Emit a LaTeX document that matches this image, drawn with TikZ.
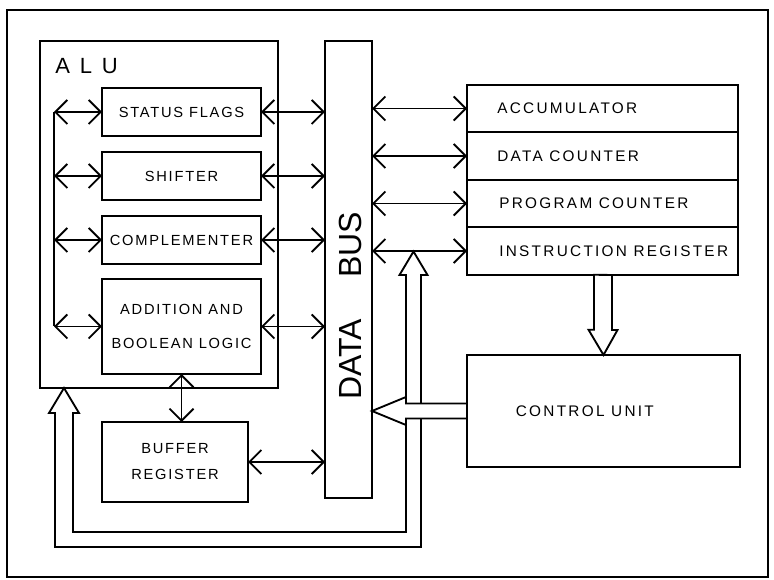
\documentclass[tikz,border=0pt]{standalone}
\usepackage{fontspec}
\setmainfont{Liberation Sans}
\usetikzlibrary{arrows.meta,positioning,calc}
\tikzset{
  box/.style={draw, line width=1.5pt, inner sep=0pt, outer sep=0pt},
  alubox/.style={box, minimum width=119.25pt, minimum height=36pt},
  regbox/.style={box, minimum width=203.25pt, minimum height=35.625pt},
  alutext/.style={font=\addfontfeature{LetterSpace=12}\fontsize{11}{25}\selectfont, align=center},
  regtext/.style={font=\addfontfeature{LetterSpace=15}\fontsize{11.5}{14}\selectfont, inner sep=0pt},
  link/.style={line width=1.4pt, {Straight Barb[length=9pt,width=18pt]}-{Straight Barb[length=9pt,width=18pt]}},
  hollow/.style={line width=1.4pt, fill=white, line join=miter},
}
\begin{document}
\begin{tikzpicture}[x=0.75pt, y=-0.75pt, node distance=12pt]
\useasboundingbox (0,0) rectangle (774,580);
\draw[line width=1.6pt] (7,10) rectangle (768,577);
% alu and its parts
\node[box, minimum width=178.5pt, minimum height=260.25pt] (alu) at (159,214.5) {};
\node[anchor=west, inner sep=0pt, font=\addfontfeature{LetterSpace=45}\fontsize{16.5}{18}\selectfont] (alulbl) at (55,66) {ALU};
\node[alubox, alutext] (flags) at (181.5,112) {STATUS FLAGS};
\node[alubox, alutext, below=12pt of flags] (shift) {SHIFTER};
\node[alubox, alutext, below=12pt of shift] (compl) {COMPLEMENTER};
\node[alubox, alutext, minimum height=71.25pt, below=11.25pt of compl] (addlog) {ADDITION AND\\BOOLEAN LOGIC};
\node[box, alutext, minimum width=109.5pt, minimum height=60pt, below=36pt of addlog.south west, anchor=north west] (buffer) {BUFFER\\[-5.5pt]REGISTER};
% data bus
\node[box, minimum width=35.25pt, minimum height=342.75pt] (bus) at (348.5,269.5) {};
\node[rotate=90, inner sep=0pt, font=\fontsize{24}{26}\selectfont] (buslbl) at (350,306) {DATA\hspace{31pt}BUS};
% registers
\node[regbox] (acc) at (602.5,108.5) {};
\node[regbox, below=0pt of acc] (dc) {};
\node[regbox, below=0pt of dc] (pc) {};
\node[regbox, below=0pt of pc] (ir) {};
\node[regtext, right=22.5pt of acc.west] (acctxt) {ACCUMULATOR};
\node[regtext, right=22.5pt of dc.west] (dctxt) {DATA COUNTER};
\node[regtext, right=24pt of pc.west] (pctxt) {PROGRAM COUNTER};
\node[regtext, right=24pt of ir.west] (irtxt) {INSTRUCTION REGISTER};
\node[box, minimum width=204.75pt, minimum height=84pt] (cu) at (603.5,411) {};
\node[regtext] (cutxt) at ([xshift=-14pt]cu.center) {CONTROL UNIT};
% connections
\coordinate (lbus) at (54,112);
\draw[line width=1.4pt] (lbus |- flags.west) -- (lbus |- addlog.west);
\foreach \n in {flags,shift,compl,addlog} {
  \draw[link] (lbus |- \n.west) -- (\n.west);
  \draw[link] (\n.east) -- (bus.west |- \n.east);
}
\draw[link] (addlog.south) -- (addlog.south |- buffer.north);
\draw[link] (buffer.east) -- (bus.west |- buffer.east);
\foreach \n in {acc,dc,pc,ir} \draw[link] (bus.east |- \n.west) -- (\n.west);
% wide arrows
\coordinate (utip) at (413.5,251.5);
\coordinate (ltip) at ($(alu.south west)+(24,0)$);
\draw[hollow] (utip) -- ++(14,23.5) -- ++(-6.5,0) -- (421,547) -- (55,547) -- (55,413) -- (49,413)
  -- (ltip) -- (79,413) -- (73,413) -- (73,532) -- (406,532) -- (406,275) -- (399.5,275) -- cycle;
\draw[hollow] (ir.south) ++(-8.5,0) -- ++(0,55) -- ++(-5.5,0) -- (cu.north) -- ++(14,-25) -- ++(-5.5,0) -- ++(0,-55) -- cycle;
\draw[hollow] (cu.west) ++(0,-7.5) -- ++(-61,0) -- ++(0,-6.5) -- (bus.east |- cu.west) -- ++(34,14) -- ++(0,-6.5) -- ++(61,0) -- cycle;
\end{tikzpicture}
\end{document}
